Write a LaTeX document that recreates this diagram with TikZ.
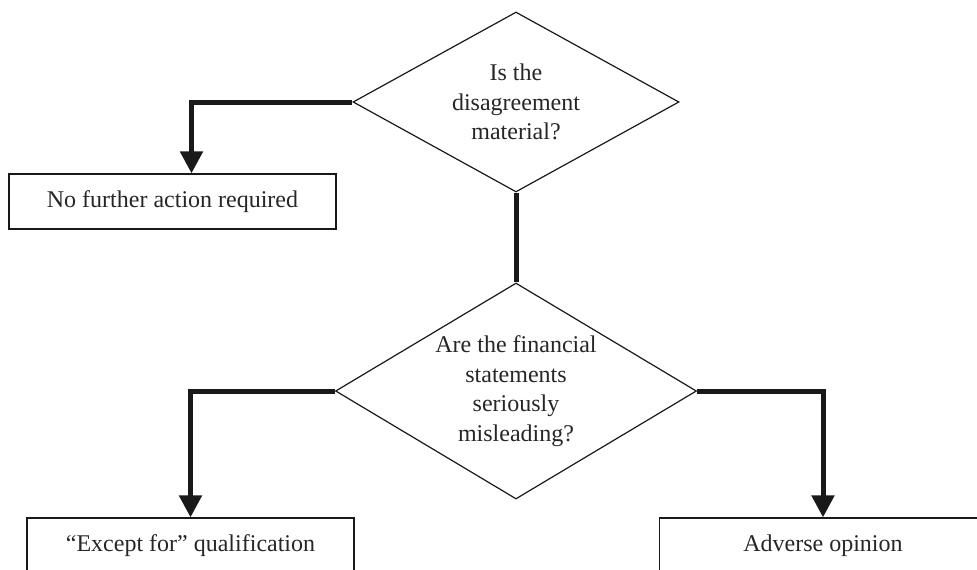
\documentclass[tikz,border=0pt]{standalone}
\usepackage{fontspec}
\setmainfont{Liberation Serif}
\usetikzlibrary{shapes.geometric,arrows.meta}
\begin{document}
\begin{tikzpicture}[x=1pt,y=-1pt,
  every node/.style={font=\fontsize{24}{29.5}\selectfont, text=black!85},
  decision/.style={diamond, draw=black!90, line width=1.2pt, inner sep=0pt,
    align=center},
  outcome/.style={rectangle, draw=black!90, line width=1.2pt,
    minimum width=327pt, minimum height=55pt, inner sep=0pt},
  flow/.style={draw=black!90, line width=5pt},
  flowarrow/.style={flow, -{Triangle[width=22pt,length=22pt]}}]
  \clip (0,0) rectangle (977,570);

  \node[decision, minimum width=326pt, minimum height=180pt, aspect=1.81]
    (material) at (516,102) {Is the\\disagreement\\material?};
  \node[decision, minimum width=361pt, minimum height=216pt, aspect=1.67]
    (misleading) at (516,391) {Are the financial\\statements\\seriously\\misleading?};

  \node[outcome] (noaction) at (172.5,201.5) {No further action required};
  \node[outcome] (exceptfor) at (190.5,545.5) {``Except for'' qualification};
  \node[outcome] (adverse) at (823,545.5) {Adverse opinion};

  \draw[flowarrow] (material.west) -| ([xshift=19pt]noaction.north);
  \draw[flow] (material.south) -- (misleading.north);
  \draw[flowarrow] (misleading.west) -| (exceptfor.north);
  \draw[flowarrow] (misleading.east) -| (adverse.north);
\end{tikzpicture}
\end{document}
